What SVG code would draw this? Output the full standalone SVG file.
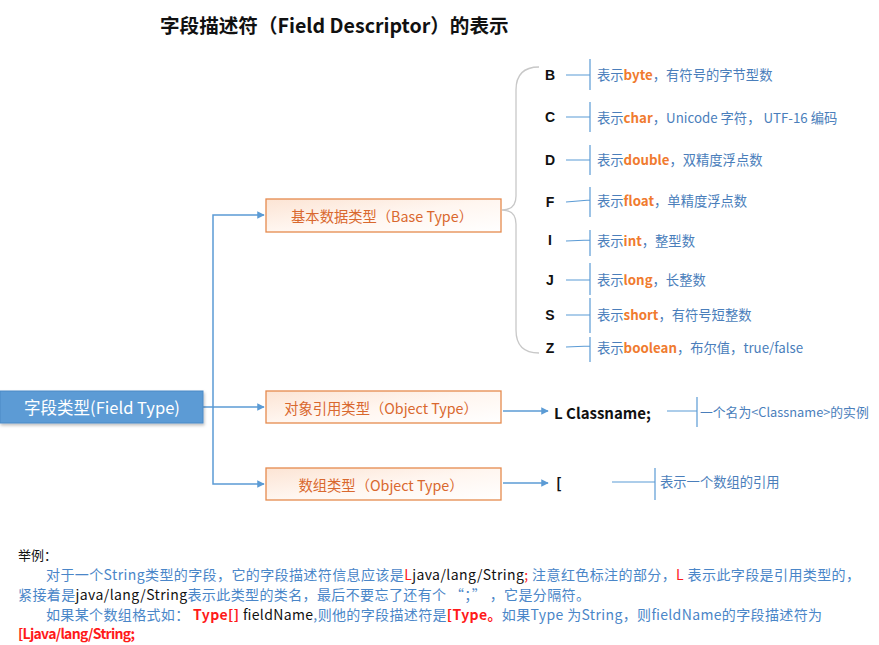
<svg xmlns="http://www.w3.org/2000/svg" width="879" height="645" viewBox="0 0 879 645">
<style>
text{font-family:"Noto Sans CJK SC","Liberation Sans",sans-serif;}
.title{font-size:19.6px;font-weight:bold;fill:#111;}
.box{fill:url(#peach);stroke:#e58a4e;stroke-width:1.3;}
.boxt{font-size:14.3px;fill:#d9682e;text-anchor:middle;dominant-baseline:central;}
.conn{stroke:#5b9bd5;stroke-width:1.5;fill:none;}
.thin{stroke:#5b9bd5;stroke-width:1.2;fill:none;}
.brace{stroke:#c8c8c8;stroke-width:1.3;fill:none;}
.letter{font-size:14px;font-weight:bold;fill:#111;text-anchor:middle;dominant-baseline:central;font-family:"Liberation Sans",sans-serif;}
.desc{font-size:13.3px;fill:#4a7ebb;dominant-baseline:central;}
.kw{fill:#f07b2f;font-weight:bold;}
.note{font-size:14px;fill:#4a86c8;}
.red{fill:#ff1a1a;}
.blk{fill:#111;}
.b{font-weight:bold;}
</style>
<defs>
<linearGradient id="peach" x1="0" y1="0" x2="1" y2="1">
<stop offset="0" stop-color="#fce4d4"/>
<stop offset="0.5" stop-color="#fff6f0"/>
<stop offset="1" stop-color="#ffffff"/>
</linearGradient>
<marker id="arr" viewBox="0 0 10 10" refX="9" refY="5" markerWidth="5" markerHeight="5" orient="auto" markerUnits="strokeWidth">
<path d="M0,0 L10,5 L0,10 z" fill="#5b9bd5"/>
</marker>
<filter id="sh" x="-10%" y="-20%" width="130%" height="160%">
<feDropShadow dx="1" dy="2" stdDeviation="1.5" flood-color="#000" flood-opacity="0.25"/>
</filter>
</defs>
<rect width="879" height="645" fill="#fff"/>
<text class="title" x="160" y="33">字段描述符（Field Descriptor）的表示</text>

<g id="connectors">
<path class="conn" d="M203,407 H213 V215 H264" marker-end="url(#arr)"/>
<path class="conn" d="M213,407 H264" marker-end="url(#arr)"/>
<path class="conn" d="M213,407 V484 H264" marker-end="url(#arr)"/>
<path class="conn" d="M503,411 H548" marker-end="url(#arr)"/>
<path class="conn" d="M503,483 H548" marker-end="url(#arr)"/>
<path class="brace" d="M539,67 Q516,67 516,90 V196 Q516,210 502,210 Q516,210 516,224 V330 Q516,353 539,353"/>
<path class="thin" d="M566,75 H590 M590,59 V90"/>
<path class="thin" d="M566,117 H590 M590,102 V132"/>
<path class="thin" d="M566,160 H590 M590,145 V175"/>
<path class="thin" d="M566,202 L590,200 M590,187 V217"/>
<path class="thin" d="M566,241 L590,240 M590,230 V256"/>
<path class="thin" d="M566,280 H590 M590,263 V295"/>
<path class="thin" d="M566,315 H590 M590,298 V333"/>
<path class="thin" d="M566,347 L590,346 M590,337 V362"/>
<path class="thin" d="M667,411 H697 M697,397 V427"/>
<path class="thin" d="M612,482 H655 M655,468 V500"/>
</g>

<g id="field-type">
<rect x="0" y="391" width="203" height="32" fill="#5b9bd5" stroke="#4a8ac6" stroke-width="1" filter="url(#sh)"/>
<text x="102" y="407" font-size="16.5" fill="#fff" text-anchor="middle" dominant-baseline="central">字段类型(Field Type)</text>
</g>
<g id="base-type">
<rect class="box" x="266" y="199" width="235" height="33"/>
<text class="boxt" x="382" y="215">基本数据类型（Base Type）</text>
</g>
<g id="object-type">
<rect class="box" x="266" y="391" width="235" height="32"/>
<text class="boxt" x="381" y="407">对象引用类型（Object Type）</text>
</g>
<g id="array-type">
<rect class="box" x="266" y="468" width="235" height="32"/>
<text class="boxt" x="381" y="484">数组类型（Object Type）</text>
</g>

<g id="B"><text class="letter" x="550" y="75">B</text><text class="desc" x="597" y="74">表示<tspan class="kw">byte</tspan>，有符号的字节型数</text></g>
<g id="C"><text class="letter" x="550" y="117">C</text><text class="desc" x="597" y="117">表示<tspan class="kw">char</tspan>，Unicode 字符， UTF-16 编码</text></g>
<g id="D"><text class="letter" x="550" y="160">D</text><text class="desc" x="597" y="159">表示<tspan class="kw">double</tspan>，双精度浮点数</text></g>
<g id="F"><text class="letter" x="550" y="202">F</text><text class="desc" x="597" y="200">表示<tspan class="kw">float</tspan>，单精度浮点数</text></g>
<g id="I"><text class="letter" x="550" y="240">I</text><text class="desc" x="597" y="240">表示<tspan class="kw">int</tspan>，整型数</text></g>
<g id="J"><text class="letter" x="550" y="280">J</text><text class="desc" x="597" y="279">表示<tspan class="kw">long</tspan>，长整数</text></g>
<g id="S"><text class="letter" x="550" y="315">S</text><text class="desc" x="597" y="314">表示<tspan class="kw">short</tspan>，有符号短整数</text></g>
<g id="Z"><text class="letter" x="550" y="348">Z</text><text class="desc" x="597" y="347">表示<tspan class="kw">boolean</tspan>，布尔值，true/false</text></g>

<g id="classname">
<text x="554" y="412" font-size="15" font-weight="bold" fill="#111" dominant-baseline="central" font-family="Liberation Sans, sans-serif">L Classname;</text>
<text class="desc" x="700" y="411" style="font-size:12.8px">一个名为&lt;Classname&gt;的实例</text>
</g>
<g id="array">
<text x="556" y="482" font-size="15" font-weight="bold" fill="#111" dominant-baseline="central" font-family="Liberation Sans, sans-serif">[</text>
<text class="desc" x="660" y="481">表示一个数组的引用</text>
</g>

<g id="example">
<text x="18" y="560" font-size="13" fill="#111">举例：</text>
<text class="note" x="46" y="580" textLength="814">对于一个String类型的字段，它的字段描述符信息应该是<tspan class="red">L</tspan><tspan class="blk">java/lang/String</tspan><tspan class="red">;</tspan> 注意红色标注的部分，<tspan class="red">L</tspan> 表示此字段是引用类型的，</text>
<text class="note" x="18" y="600" textLength="572">紧接着是<tspan class="blk">java/lang/String</tspan>表示此类型的类名，最后不要忘了还有个 “；” ，它是分隔符。</text>
<text class="note" x="46" y="620" textLength="776">如果某个数组格式如：   <tspan class="red b">Type[]</tspan>  <tspan class="blk">fieldName</tspan>,则他的字段描述符是<tspan class="red b">[Type。</tspan>如果Type 为String，则fieldName的字段描述符为</text>
<text class="note red b" x="18" y="639" textLength="117">[Ljava/lang/String;</text>
</g>
</svg>
